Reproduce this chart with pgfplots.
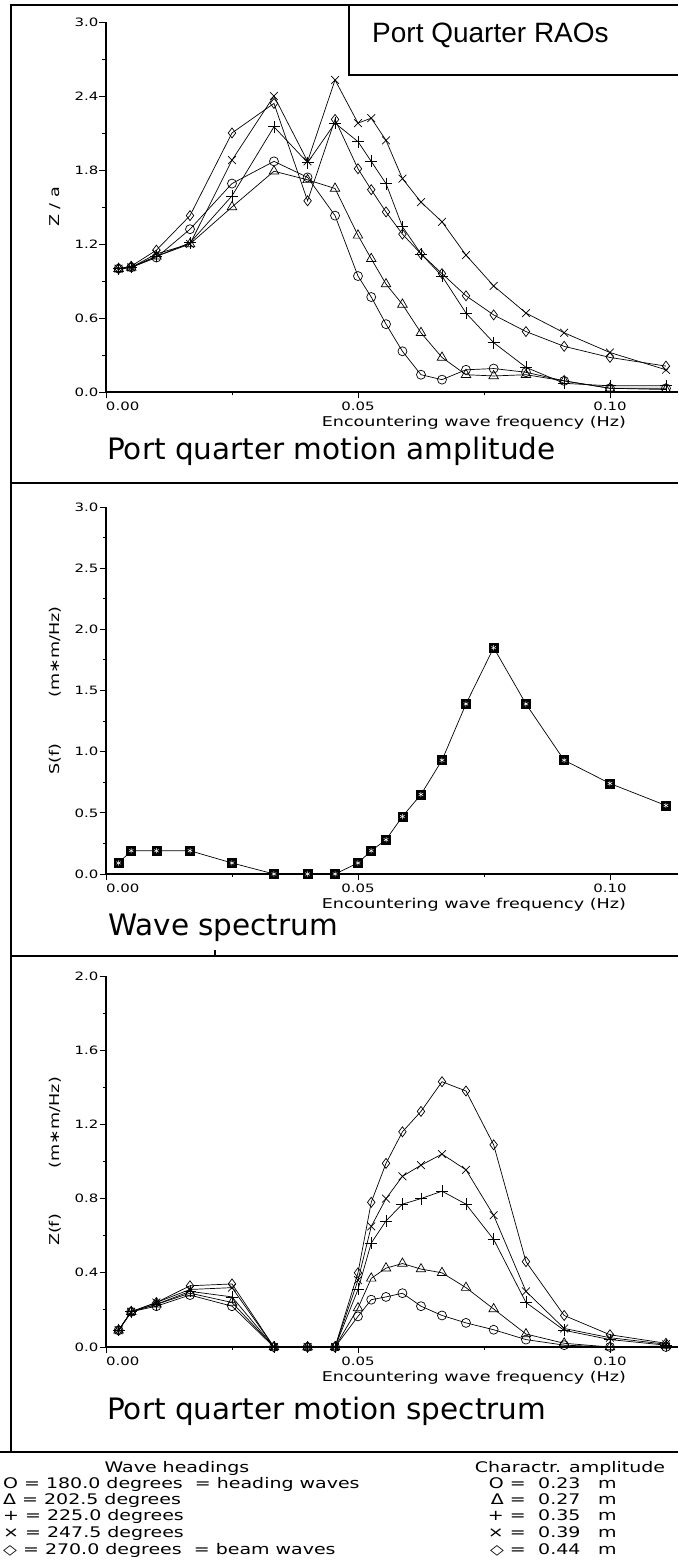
\documentclass[border=0pt]{standalone}
\usepackage{fontspec}
\setmainfont{DejaVu Sans}
\newfontfamily\hershey[FakeStretch=1.3]{DejaVu Sans}
\newfontfamily\arial{Liberation Sans}
\usepackage{pgfplots}
\pgfplotsset{compat=1.18}
\usepackage{pgfplotstable}

% RAO |Z/a| per wave heading (c=180, t=202.5, p=225, x=247.5, d=270)
\pgfplotstableread{
f       c     t     p     x     d
0.0025  1.00  1.00  1.00  1.00  1.00
0.005   1.01  1.01  1.01  1.01  1.02
0.01    1.09  1.10  1.10  1.12  1.15
0.01667 1.32  1.20  1.21  1.20  1.43
0.025   1.69  1.50  1.59  1.88  2.10
0.03333 1.87  1.79  2.15  2.40  2.34
0.04    1.74  1.72  1.86  1.87  1.55
0.04545 1.43  1.65  2.18  2.53  2.21
0.05    0.94  1.27  2.03  2.18  1.81
0.05263 0.77  1.08  1.87  2.22  1.64
0.05556 0.55  0.875 1.69  2.04  1.46
0.05882 0.33  0.71  1.34  1.73  1.28
0.0625  0.14  0.48  1.12  1.54  1.12
0.06667 0.10  0.28  0.94  1.38  0.96
0.07143 0.18  0.14  0.64  1.11  0.78
0.07692 0.19  0.13  0.40  0.86  0.625
0.08333 0.16  0.14  0.20  0.64  0.49
0.09091 0.09  0.09  0.07  0.48  0.37
0.1     0.03  0.03  0.05  0.32  0.28
0.11111 0.03  0.02  0.05  0.18  0.21
}\raoTable

% wave spectrum
\pgfplotstableread{
f       s
0.0025  0.09
0.005   0.19
0.01    0.19
0.01667 0.19
0.025   0.09
0.03333 0
0.04    0
0.04545 0
0.05    0.09
0.05263 0.19
0.05556 0.28
0.05882 0.47
0.0625  0.65
0.06667 0.93
0.07143 1.39
0.07692 1.85
0.08333 1.39
0.09091 0.93
0.1     0.74
0.11111 0.56
}\specTable

% motion spectrum
\pgfplotstableread{
f       c     t     p     x     d
0.0025  0.09  0.09  0.09  0.09  0.09
0.005   0.19  0.19  0.19  0.19  0.19
0.01    0.22  0.23  0.23  0.24  0.24
0.01667 0.28  0.29  0.30  0.31  0.33
0.025   0.22  0.24  0.27  0.32  0.34
0.03333 0     0     0     0     0
0.04    0     0     0     0     0
0.04545 0     0     0     0     0
0.05    0.165 0.21  0.31  0.36  0.40
0.05263 0.255 0.37  0.56  0.65  0.78
0.05556 0.27  0.425 0.68  0.80  0.99
0.05882 0.29  0.45  0.77  0.92  1.16
0.0625  0.22  0.42  0.80  0.98  1.27
0.06667 0.17  0.40  0.84  1.04  1.43
0.07143 0.13  0.32  0.77  0.955 1.38
0.07692 0.093 0.205 0.58  0.71  1.09
0.08333 0.04  0.07  0.24  0.30  0.46
0.09091 0.01  0.02  0.09  0.10  0.17
0.1     0.0   0.0   0.04  0.05  0.066
0.11111 0.0   0.005 0.01  0.015 0.02
}\motTable

\pgfplotsset{
  panel/.style={
    scale only axis, width=572pt, xmin=0, xmax=0.1135, ymin=0,
    axis lines=left, axis line style={-, line width=1.1pt},
    tick align=outside, major tick length=6.5pt, minor tick length=3.5pt,
    tick style={line width=0.9pt, black},
    xtick={0,0.05,0.1}, xticklabels={\makebox[0pt][l]{0.00},0.05,0.10},
    minor xtick={0.025,0.075}, minor y tick num=1,
    ticklabel style={font=\hershey\fontsize{11.5}{13}\selectfont},
    yticklabel style={inner sep=1pt},
    xlabel={Encountering wave frequency (Hz)},
    xlabel style={at={(axis description cs:0.915,0)}, anchor=north east,
      yshift=-21pt, font=\hershey\fontsize{13.5}{15}\selectfont},
    ylabel style={at={(axis description cs:-0.0892,0.5)}, anchor=center,
      font=\hershey\fontsize{13.5}{15}\selectfont},
    clip=false,
  },
  ser/.style={black, line width=0.7pt, mark options={solid, line width=0.7pt}},
}

\newcommand\titlefont{\fontsize{29.5}{32}\selectfont}
\newcommand\legfont{\hershey\fontsize{14.6}{16}\selectfont}

\begin{document}
\begin{tikzpicture}[x=1pt,y=1pt]
\path[use as bounding box] (0,0) rectangle (678,1566);

% frame
\draw[line width=2pt] (10.7,1562) -- (10.7,114);
\draw[line width=2.5pt] (9.7,1561) -- (678,1561);
\draw[line width=2pt] (9.7,1083) -- (678,1083);
\draw[line width=2pt] (9.7,610) -- (678,610);
\draw[line width=1.2pt] (215,616) -- (215,610);
\draw[line width=2.5pt] (0,114) -- (678,114);
\draw[line width=1.5pt] (349,1561) -- (349,1491) -- (678,1491);
\node[anchor=base west, font=\arial\fontsize{28}{30}\selectfont, inner sep=0pt]
  at (372,1523) {Port Quarter RAOs};

% panel 1: RAO
\begin{axis}[panel, at={(106pt,1174pt)}, anchor=south west, height=370pt, ymax=3.0,
  ytick={0,0.6,1.2,1.8,2.4,3.0}, yticklabels={0.0,0.6,1.2,1.8,2.4,3.0},
  ylabel={Z / a}]
\addplot[ser, mark=o, mark size=4.5pt] table[x=f,y=c]{\raoTable};
\addplot[ser, mark=triangle, mark size=5.5pt] table[x=f,y=t]{\raoTable};
\addplot[ser, mark=+, mark size=6pt] table[x=f,y=p]{\raoTable};
\addplot[ser, mark=x, mark size=5.5pt] table[x=f,y=x]{\raoTable};
\addplot[ser, mark=diamond, mark size=5pt] table[x=f,y=d]{\raoTable};
\end{axis}
\node[anchor=base west, font=\titlefont, inner sep=0pt] at (107,1106) {Port quarter motion amplitude};

% panel 2: wave spectrum
\begin{axis}[panel, at={(106pt,692pt)}, anchor=south west, height=367pt, ymax=3.0,
  ytick={0,0.5,1,1.5,2,2.5,3}, yticklabels={0.0,0.5,1.0,1.5,2.0,2.5,3.0},
  ylabel={S(f)\hspace{46pt}(m∗m/Hz)}]
\addplot[ser, mark=square*, mark size=4.5pt, mark options={fill=black}] table[x=f,y=s]{\specTable};
\addplot[only marks, mark=asterisk, mark size=2.6pt, mark options={white, line width=0.5pt}] table[x=f,y=s]{\specTable};
\end{axis}
\node[anchor=base west, font=\titlefont, inner sep=0pt] at (108,630) {Wave spectrum};

% panel 3: motion spectrum
\begin{axis}[panel, at={(106pt,219pt)}, anchor=south west, height=371pt, ymax=2.0,
  ytick={0,0.4,0.8,1.2,1.6,2.0}, yticklabels={0.0,0.4,0.8,1.2,1.6,2.0},
  ylabel={Z(f)\hspace{46pt}(m∗m/Hz)}]
\addplot[ser, mark=o, mark size=4.5pt] table[x=f,y=c]{\motTable};
\addplot[ser, mark=triangle, mark size=5.5pt] table[x=f,y=t]{\motTable};
\addplot[ser, mark=+, mark size=6pt] table[x=f,y=p]{\motTable};
\addplot[ser, mark=x, mark size=5.5pt] table[x=f,y=x]{\motTable};
\addplot[ser, mark=diamond, mark size=5pt] table[x=f,y=d]{\motTable};
\end{axis}
\node[anchor=base west, font=\titlefont, inner sep=0pt] at (107,146) {Port quarter motion spectrum};

% legend block
\node[anchor=base, font=\legfont, inner sep=0pt] at (177,93) {Wave headings};
\node[anchor=base west, font=\legfont, inner sep=0pt] at (3,77) {O = 180.0 degrees \ = heading waves};
\node[anchor=base west, font=\legfont, inner sep=0pt] at (3,61) {Δ = 202.5 degrees};
\node[anchor=base west, font=\legfont, inner sep=0pt] at (3,45) {+ = 225.0 degrees};
\node[anchor=base west, font=\legfont, inner sep=0pt] at (3,28) {× = 247.5 degrees};
\node[anchor=base west, font=\legfont, inner sep=0pt] at (3,11) {\scalebox{0.95}{◇} = 270.0 degrees \ = beam waves};

\node[anchor=base, font=\legfont, inner sep=0pt] at (570,93) {Charactr. amplitude};
\node[anchor=base east, font=\legfont, inner sep=0pt] at (526,77) {O =};
\node[anchor=base east, font=\legfont, inner sep=0pt] at (526,61) {Δ =};
\node[anchor=base east, font=\legfont, inner sep=0pt] at (526,45) {+ =};
\node[anchor=base east, font=\legfont, inner sep=0pt] at (526,28) {× =};
\node[anchor=base east, font=\legfont, inner sep=0pt] at (526,11) {\scalebox{0.95}{◇} =};
\node[anchor=base west, font=\legfont, inner sep=0pt] at (538,77) {0.23};
\node[anchor=base west, font=\legfont, inner sep=0pt] at (538,61) {0.27};
\node[anchor=base west, font=\legfont, inner sep=0pt] at (538,45) {0.35};
\node[anchor=base west, font=\legfont, inner sep=0pt] at (538,28) {0.39};
\node[anchor=base west, font=\legfont, inner sep=0pt] at (538,11) {0.44};
\foreach \yy in {77,61,45,28,11}
  \node[anchor=base west, font=\legfont, inner sep=0pt] at (598,\yy) {m};
\end{tikzpicture}
\end{document}
